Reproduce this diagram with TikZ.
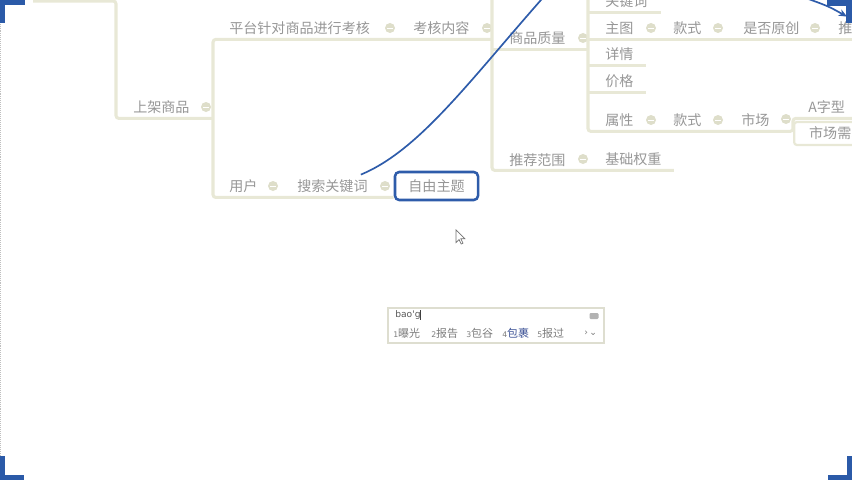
\documentclass[tikz,border=0pt]{standalone}
\usepackage{fontspec}
\newfontfamily\cjk{Noto Sans CJK SC}
\newfontfamily\uifont{DejaVu Sans}
\usepackage{tikz}
\usetikzlibrary{arrows.meta, positioning, calc}
\definecolor{branchbeige}{RGB}{232,232,214}
\definecolor{foldbeige}{RGB}{222,222,202}
\definecolor{topicgray}{RGB}{150,150,150}
\definecolor{relblue}{RGB}{46,92,170}
\definecolor{cornerblue}{RGB}{43,90,168}
\definecolor{imeline}{RGB}{222,222,208}
\definecolor{candgray}{RGB}{125,125,125}
\definecolor{candblue}{RGB}{60,82,150}

\begin{document}
\begin{tikzpicture}[
    x=0.025cm, y=-0.025cm,
    topic/.style={
        anchor=west,
        inner xsep=0pt,
        inner ysep=0.115cm,
        text=topicgray,
        font=\cjk\fontsize{10}{12}\selectfont
    },
    fold/.style={
        circle,
        fill=foldbeige,
        inner sep=0pt,
        minimum size=0.25cm,
        path picture={\draw[white, line width=0.7pt]
            ([xshift=-2pt]path picture bounding box.center) --
            ([xshift=2pt]path picture bounding box.center);}
    },
    branch/.style={
        draw=branchbeige,
        line width=2.2pt,
        rounded corners=2pt
    },
    freebox/.style={
        rectangle,
        draw=relblue,
        line width=1.8pt,
        rounded corners=3pt,
        minimum width=2.075cm,
        minimum height=0.7cm,
        text=topicgray,
        font=\cjk\fontsize{10}{12}\selectfont
    },
    marketbox/.style={
        rectangle,
        anchor=west,
        draw=branchbeige,
        line width=1.6pt,
        rounded corners=2pt,
        inner xsep=0.375cm,
        minimum height=0.575cm,
        text=topicgray,
        font=\cjk\fontsize{10}{12}\selectfont
    },
    rel/.style={
        draw=relblue,
        line width=1.2pt
    },
    imebox/.style={
        rectangle,
        draw=imeline,
        fill=white,
        line width=0.8pt,
        minimum width=5.4cm,
        minimum height=0.875cm
    },
    imetext/.style={
        anchor=west,
        inner sep=0pt,
        text=black!65,
        font=\uifont\fontsize{6.5}{8}\selectfont
    },
    cand/.style={
        anchor=west,
        inner sep=0pt,
        text=candgray,
        font=\cjk\fontsize{7.8}{9}\selectfont
    },
    corner/.style={fill=cornerblue}
]
    \useasboundingbox (0,0) rectangle (852,480);
    \clip (0,0) rectangle (852,480);

    % topics
    \node[topic] (sjsp) at (133,107) {上架商品};
    \node[fold] (f0) at (206,107) {};
    \node[topic] (ptkh) at (229,28) {平台针对商品进行考核};
    \node[fold] (f1) at (390,28) {};
    \node[topic] (khnr) at (413,28) {考核内容};
    \node[fold] (f2) at (487,28) {};
    \node[topic] (yh) at (229,186) {用户};
    \node[fold] (f3) at (273,186) {};
    \node[topic] (ssgjc) at (297,186) {搜索关键词};
    \node[fold] (f4) at (385,186) {};
    \node[freebox] (zyzt) at (436.5,186) {自由主题};

    \node[topic] (spzl) at (509,38) {商品质量};
    \node[fold] (f5) at (583,38) {};
    \node[topic] (tjfw) at (509,160) {推荐范围};
    \node[fold] (f6) at (583,159) {};
    \node[topic] (jcqz) at (605,159) {基础权重};

    \node[topic] (gjc) at (605,1) {关键词};
    \node[topic] (zt) at (605,28) {主图};
    \node[fold] (f7) at (651,28) {};
    \node[topic] (ks1) at (673,28) {款式};
    \node[fold] (f8) at (718,28) {};
    \node[topic] (sfyc) at (743,28) {是否原创};
    \node[fold] (f9) at (815,28) {};
    \node[topic] (tj) at (838,28) {推荐};
    \node[topic] (xq) at (605,54) {详情};
    \node[topic] (jg) at (605,81) {价格};
    \node[topic] (sx) at (605,120) {属性};
    \node[fold] (f10) at (651,120) {};
    \node[topic] (ks2) at (673,120) {款式};
    \node[fold] (f11) at (718,120) {};
    \node[topic] (sc) at (741,120) {市场};
    \node[fold] (f12) at (786,119) {};
    \node[topic] (azx) at (808,107) {A字型};
    \node[marketbox] (scxq) at (793,133.5) {市场需求};

    % trunk points
    \coordinate (topL) at (33,1);
    \coordinate (tA) at (116,1);
    \coordinate (tB) at (213,0);
    \coordinate (tC) at (492,-10);
    \coordinate (tD) at (588,-10);
    \coordinate (tE) at (793,0);

    % branches
    \draw[branch] (topL) -- (tA) |- (sjsp.south -| tB);
    \draw[branch] (khnr.south -| tC) -| (yh.south -| tB) -- (ssgjc.south -| zyzt.west);
    \draw[branch] (tC) |- ($(jcqz.south east)+(12,0)$);
    \draw[branch] (spzl.south -| tC) -- (spzl.south -| tD);
    \draw[branch] (tD) |- (sx.south -| tE) |- (azx.south -| tj.east);
    \draw[branch] (gjc.south -| tD) -- ($(gjc.south east)+(13,0)$);
    \draw[branch] (zt.south -| tD) -- (zt.south -| tj.east);
    \draw[branch] (xq.south -| tD) -- ($(xq.south east)+(12,0)$);
    \draw[branch] (jg.south -| tD) -- ($(jg.south east)+(12,0)$);

    % relationship lines
    \coordinate (relS) at ($(ssgjc.north east)+(-7,0)$);
    \coordinate (relE) at (548,-8);
    \draw[rel] (relS) .. controls (420,150) and (470,80) .. (relE);
    \coordinate (arrS) at (800,-4);
    \draw[rel, -{Stealth[length=6pt, width=5pt]}] (arrS) .. controls (828,6) .. ($(tj.north west)+(9,0)$);

    % input box
    \node[imebox] (ime) at (496,325.5) {};
    \node[imetext] (py) at (395,315) {bao'g};
    \draw[black!75, line width=0.7pt] (py.north east) -- (py.south east);
    \node[rectangle, fill=black!30, rounded corners=0.8pt, inner sep=0pt,
          minimum width=0.225cm, minimum height=0.15cm] (kbd) at (594,316) {};
    \node[cand] (c1) at (393,333) {{\uifont\fontsize{5.5}{7}\selectfont 1}曝光};
    \node[cand] (c2) at (431,333) {{\uifont\fontsize{5.5}{7}\selectfont 2}报告};
    \node[cand] (c3) at (466,333) {{\uifont\fontsize{5.5}{7}\selectfont 3}包谷};
    \node[cand] (c4) at (502,333) {{\uifont\fontsize{5.5}{7}\selectfont 4}\textcolor{candblue}{包裹}};
    \node[cand] (c5) at (537,333) {{\uifont\fontsize{5.5}{7}\selectfont 5}报过};
    \node[cand, font=\uifont\fontsize{6.5}{8}\selectfont] (more) at (584,333) {›\,⌄};

    % mouse pointer
    \draw[black!55, fill=white, line width=0.5pt, shift={(456,230)}]
        (0,0) -- (0,12.5) -- (3,9.5) -- (5.2,14) -- (7,13.2) -- (4.9,8.8) -- (8.8,8.8) -- cycle;

    % frame corners
    \draw[black!25, line width=0.4pt, densely dotted] (0.5,0) -- (0.5,480);
    \fill[corner] (0,0) rectangle (25,5);
    \fill[corner] (0,0) rectangle (5,23);
    \fill[corner] (827,0) rectangle (852,6);
    \fill[corner] (846,0) rectangle (852,23);
    \fill[corner] (0,475) rectangle (24,480);
    \fill[corner] (0,456) rectangle (5,480);
    \fill[corner] (828,475) rectangle (852,480);
    \fill[corner] (847,456) rectangle (852,480);
\end{tikzpicture}
\end{document}
